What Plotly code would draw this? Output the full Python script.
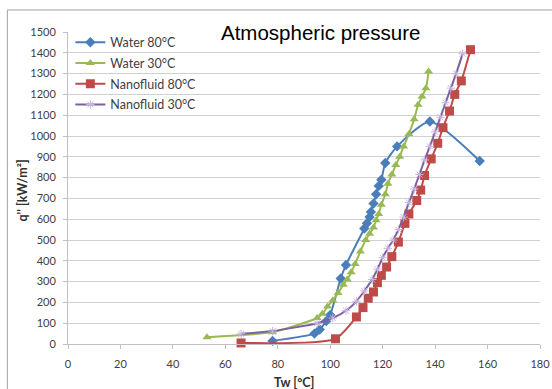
import plotly.graph_objects as go

# ---- data ----
w80_T = [78, 94, 96, 98.5, 100, 104, 106, 113, 114, 115, 115.5, 116.5, 117.5, 118.5, 119.5, 121, 125.5, 138, 157]
w80_q = [15, 50, 70, 110, 140, 315, 380, 555, 580, 610, 635, 675, 720, 760, 790, 870, 950, 1070, 880]

w30_T = [53, 78, 95, 97, 99, 101, 103, 105, 106.5, 108, 109.5, 111.5, 113.5, 115, 116.5, 117.5, 118.5, 119.5,
         121, 122, 123.5, 125, 126.5, 128, 130, 132, 133.5, 135, 136.5, 137.5]
w30_q = [33, 57, 125, 145, 180, 210, 245, 285, 310, 345, 385, 445, 500, 530, 560, 595, 625, 670,
         720, 770, 815, 860, 900, 950, 1010, 1080, 1150, 1190, 1230, 1310]

n80_T = [66, 102, 110, 112.5, 114.5, 116.5, 118, 119.5, 121.5, 123.5, 126, 128.5, 130, 133, 134.5, 136,
         138.5, 141, 143, 145.5, 147.5, 150, 153.5]
n80_q = [5, 25, 130, 175, 220, 250, 295, 330, 370, 420, 490, 580, 625, 690, 740, 810,
         890, 965, 1040, 1120, 1200, 1265, 1415]

n30_T = [66, 78, 95, 101, 106, 110, 113, 116, 118, 120, 122, 124, 126, 128, 130, 132, 134, 136, 138, 140,
         142, 144, 146, 148, 150.5]
n30_q = [49, 62, 100, 125, 160, 205, 255, 310, 360, 415, 460, 500, 550, 610, 680, 745, 815, 885, 950, 1020,
         1090, 1160, 1230, 1300, 1395]

names = ["Water 80°C", "Water 30°C", "Nanofluid 80°C", "Nanofluid 30°C"]
x_ticks = list(range(0, 181, 20))
y_ticks = list(range(0, 1501, 100))

FONT = "Lato, Open Sans, sans-serif"

fig = go.Figure()
series = [
    (w80_T, w80_q, names[0], "#4A7EBB", dict(symbol="diamond", size=8, color="#4A7EBB")),
    (w30_T, w30_q, names[1], "#98B954", dict(symbol="triangle-up", size=8, color="#98B954")),
    (n80_T, n80_q, names[2], "#BE4B48", dict(symbol="square", size=9, color="#BE4B48")),
    (n30_T, n30_q, names[3], "#7D60A0", dict(symbol="asterisk-open", size=7, color="#C8B4E0",
                                              line=dict(width=1, color="#C8B4E0"))),
]
for i, (xs, ys, nm, col, mk) in enumerate(series):
    fig.add_trace(go.Scatter(
        x=xs, y=ys, name=nm, mode="lines+markers", legendgroup=f"g{i}",
        line=dict(color=col, width=2, shape="spline", smoothing=0.6),
        marker=mk, cliponaxis=False,
    ))

fig.update_layout(
    width=552, height=389,
    margin=dict(l=68, r=12, t=32, b=45, autoexpand=False),
    paper_bgcolor="white", plot_bgcolor="white",
    font=dict(family=FONT, size=11, color="#404040"),
    showlegend=True,
    legend=dict(x=0.005, y=1.014, xanchor="left", yanchor="top", traceorder="grouped",
                bgcolor="rgba(0,0,0,0)", font=dict(size=12.5, color="#404040"),
                tracegroupgap=1.5, itemwidth=30),
    xaxis=dict(range=[0, 180], tickvals=x_ticks, showgrid=False, zeroline=False, automargin=False,
               showline=True, linecolor="#C0C0C0", linewidth=1,
               ticks="outside", ticklen=4, tickcolor="#C0C0C0", ticklabelstandoff=6,
               tickfont=dict(size=11, color="#404040")),
    yaxis=dict(range=[0, 1500], tickvals=y_ticks, showgrid=True, gridcolor="#D0D0D0", gridwidth=1,
               zeroline=False, showline=True, linecolor="#C0C0C0", linewidth=1, automargin=False,
               ticks="outside", ticklen=4, tickcolor="#C0C0C0", ticklabelstandoff=5,
               tickfont=dict(size=11, color="#404040")),
    shapes=[dict(type="rect", xref="paper", yref="paper", x0=-0.1285, x1=1.03, y0=-0.165, y1=1.0706,
                 line=dict(color="#A0A0A0", width=1))],
    annotations=[
        dict(text="Atmospheric pressure", xref="paper", yref="paper", x=0.534, y=1.0,
             xanchor="center", yanchor="middle", showarrow=False,
             font=dict(family="Liberation Sans, Arial, sans-serif", size=20.5, color="black")),
        dict(text="<b>Tw [°C]</b>", xref="paper", yref="paper", x=0.479, y=-0.1236,
             xanchor="center", yanchor="middle", showarrow=False,
             font=dict(size=12.5, color="#303030")),
        dict(text="<b>q'' [kW/m²]</b>", xref="paper", yref="paper", x=-0.0968, y=0.493,
             xanchor="center", yanchor="middle", showarrow=False, textangle=-90,
             font=dict(size=12.5, color="#303030")),
    ],
)

fig.write_html("out.html", config={"displayModeBar": False},
               post_script="document.body.style.margin='0';")
